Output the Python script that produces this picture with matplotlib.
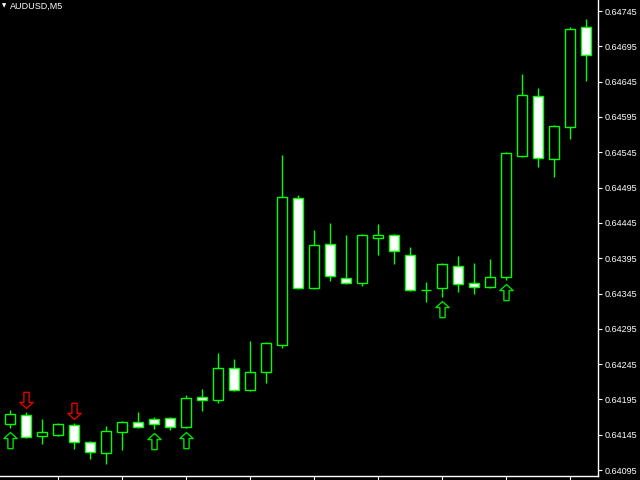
import numpy as np
import matplotlib
matplotlib.use("Agg")
import matplotlib.pyplot as plt
from matplotlib.path import Path

# AUDUSD M5 candles
opens = [0.64160, 0.64173, 0.64143, 0.64145, 0.64159, 0.64135, 0.64119, 0.64149, 0.64163, 0.64167,
         0.64169, 0.64156, 0.64199, 0.64194, 0.64240, 0.64208, 0.64234, 0.64272, 0.64480, 0.64353,
         0.64415, 0.64367, 0.64360, 0.64424, 0.64428, 0.64400, 0.64350, 0.64353, 0.64384, 0.64360,
         0.64354, 0.64368, 0.64540, 0.64625, 0.64535, 0.64581, 0.64722]
highs = [0.64180, 0.64177, 0.64167, 0.64162, 0.64162, 0.64136, 0.64157, 0.64164, 0.64177, 0.64170,
         0.64170, 0.64201, 0.64210, 0.64261, 0.64252, 0.64278, 0.64276, 0.64541, 0.64485, 0.64435,
         0.64445, 0.64428, 0.64429, 0.64443, 0.64429, 0.64411, 0.64361, 0.64388, 0.64398, 0.64388,
         0.64394, 0.64545, 0.64656, 0.64636, 0.64583, 0.64722, 0.64734]
lows = [0.64155, 0.64141, 0.64132, 0.64143, 0.64125, 0.64111, 0.64104, 0.64123, 0.64155, 0.64153,
        0.64152, 0.64155, 0.64179, 0.64190, 0.64207, 0.64207, 0.64218, 0.64268, 0.64352, 0.64352,
        0.64363, 0.64358, 0.64356, 0.64400, 0.64387, 0.64349, 0.64333, 0.64340, 0.64347, 0.64344,
        0.64353, 0.64364, 0.64539, 0.64524, 0.64510, 0.64564, 0.64646]
closes = [0.64174, 0.64142, 0.64149, 0.64160, 0.64135, 0.64121, 0.64150, 0.64163, 0.64156, 0.64160,
          0.64156, 0.64197, 0.64194, 0.64240, 0.64208, 0.64234, 0.64275, 0.64482, 0.64353, 0.64414,
          0.64370, 0.64360, 0.64428, 0.64428, 0.64405, 0.64350, 0.64350, 0.64387, 0.64358, 0.64354,
          0.64368, 0.64544, 0.64626, 0.64537, 0.64582, 0.64720, 0.64683]

# signal arrows (candle index)
buy_signals = [0, 9, 11, 27, 31]
sell_signals = [1, 4]

price_ticks = [0.64745 - 0.0005 * k for k in range(14)]

GREEN = "#00ff00"

# arrow markers, tip sits a little away from the marker origin
up_verts = [(0, -0.2), (0.33, -0.5), (0.13, -0.5), (0.13, -1.0), (-0.13, -1.0),
            (-0.13, -0.5), (-0.33, -0.5), (0, -0.2)]
up_arrow = Path(up_verts, closed=True)
down_arrow = Path([(x, -y) for x, y in up_verts], closed=True)

fig = plt.figure(figsize=(6.4, 4.8), dpi=100, facecolor="black")
ax = fig.add_axes([0, 4 / 480, 598 / 640, 476 / 480], facecolor="black")

o = np.array(opens)
h = np.array(highs)
l = np.array(lows)
c = np.array(closes)
x = np.arange(len(o))

bull = c >= o
ax.vlines(x, l, h, color=GREEN, linewidth=1.0, zorder=1)
ax.bar(x, np.abs(c - o), bottom=np.minimum(o, c), width=0.62,
       color=np.where(bull, "black", "white"), edgecolor=GREEN, linewidth=1.0, zorder=2)

ax.plot(buy_signals, l[buy_signals], linestyle="none", marker=up_arrow, markersize=29,
        markerfacecolor="none", markeredgecolor="#00e000", markeredgewidth=1.0, zorder=3)
ax.plot(sell_signals, h[sell_signals], linestyle="none", marker=down_arrow, markersize=29,
        markerfacecolor="none", markeredgecolor="#e00000", markeredgewidth=1.0, zorder=3)

ax.set_xlim(-0.625, 36.75)
ax.set_ylim(0.640866, 0.647606)

for side in ["left", "top"]:
    ax.spines[side].set_visible(False)
for side in ["right", "bottom"]:
    ax.spines[side].set_color("white")
    ax.spines[side].set_linewidth(1.0)

ax.yaxis.tick_right()
ax.set_yticks(price_ticks)
ax.set_yticklabels(["%.5f" % p for p in price_ticks])
ax.tick_params(axis="y", colors="white", length=3, width=0.8, pad=2,
               labelsize=6.5, labelfontfamily="Liberation Sans")
ax.set_xticks(np.arange(3, 37, 4))
ax.set_xticklabels([])
ax.tick_params(axis="x", colors="white", length=4, width=0.8)

ax.text(0.004, 0.987, "\u25bc", transform=ax.transAxes, color="white",
        fontsize=4, va="center", ha="left")
ax.text(10 / 598, 0.987, "AUDUSD,M5", transform=ax.transAxes, color="white",
        fontsize=6.5, family="Liberation Sans", va="center", ha="left")

plt.savefig("out.png", dpi=100, facecolor="black")
